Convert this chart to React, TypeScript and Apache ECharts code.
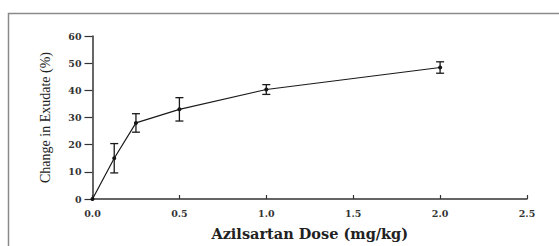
import React, { useEffect, useRef } from "react";
import * as echarts from "echarts";

const doses = [0, 0.125, 0.25, 0.5, 1.0, 2.0];
const means = [0, 15.0, 28.0, 33.0, 40.3, 48.4];
const errors = [0, 5.4, 3.4, 4.3, 1.8, 2.1];
const xTicks = [0, 0.5, 1.0, 1.5, 2.0, 2.5];
const yTicks = [0, 10, 20, 30, 40, 50, 60];
const xTitle = "Azilsartan Dose (mg/kg)";
const yTitle = "Change in Exudate (%)";

export default function App() {
  const ref = useRef<HTMLDivElement>(null);
  useEffect(() => {
    if (!ref.current) return;
    const chart = echarts.init(ref.current, undefined, { renderer: "svg" });
    const lineData = doses.map((d, i) => [d, means[i]]);
    const errData = doses
      .map((d, i) => [d, means[i] - errors[i], means[i] + errors[i]])
      .filter((_, i) => errors[i] > 0);
    const tickFont = {
      fontFamily: "DejaVu Serif",
      fontWeight: "bold" as const,
      fontSize: 9.5,
      color: "#333",
    };
    chart.setOption({
      animation: false,
      backgroundColor: "#fff",
      graphic: [
        {
          type: "polyline",
          shape: { points: [[8.5, 300], [8.5, 13.5], [600, 13.5]] },
          style: { fill: "none", stroke: "#8a8a8a", lineWidth: 1.5 },
          silent: true,
        },
      ],
      grid: { left: 92.5, top: 36, width: 434.5, height: 166.5 },
      xAxis: {
        type: "value",
        min: 0,
        max: 2.5,
        interval: 0.5,
        name: xTitle,
        nameLocation: "middle",
        nameGap: 27,
        nameTextStyle: {
          fontFamily: "DejaVu Serif",
          fontWeight: "bold",
          fontSize: 14.5,
          color: "#222",
        },
        axisLine: { onZero: false, lineStyle: { color: "#333", width: 1.5 } },
        axisTick: { inside: true, length: 4, lineStyle: { color: "#333", width: 1.2 } },
        axisLabel: {
          ...tickFont,
          margin: 9,
          formatter: (v: number) => (xTicks.includes(v) ? v.toFixed(1) : ""),
        },
        splitLine: { show: false },
      },
      yAxis: {
        type: "value",
        min: 0,
        max: 60,
        interval: 10,
        name: yTitle,
        nameLocation: "middle",
        nameGap: 40,
        nameTextStyle: {
          fontFamily: "Liberation Serif",
          fontSize: 14,
          color: "#222",
        },
        axisLine: { onZero: false, lineStyle: { color: "#333", width: 1.5 } },
        axisTick: { inside: false, length: 8, lineStyle: { color: "#333", width: 1.2 } },
        axisLabel: {
          ...tickFont,
          margin: 11,
          formatter: (v: number) => (yTicks.includes(v) ? String(v) : ""),
        },
        splitLine: { show: false },
      },
      series: [
        {
          type: "line",
          data: lineData,
          symbol: "circle",
          symbolSize: 4,
          lineStyle: { color: "#1a1a1a", width: 1.2 },
          itemStyle: { color: "#111" },
          z: 3,
        },
        {
          type: "custom",
          data: errData,
          z: 4,
          renderItem: (params: any, api: any) => {
            const x = api.value(0);
            const lo = api.coord([x, api.value(1)]);
            const hi = api.coord([x, api.value(2)]);
            const w = 4;
            const style = { stroke: "#1a1a1a", lineWidth: 1.3 };
            return {
              type: "group",
              children: [
                { type: "line", shape: { x1: lo[0], y1: lo[1], x2: hi[0], y2: hi[1] }, style },
                { type: "line", shape: { x1: lo[0] - w, y1: lo[1], x2: lo[0] + w, y2: lo[1] }, style },
                { type: "line", shape: { x1: hi[0] - w, y1: hi[1], x2: hi[0] + w, y2: hi[1] }, style },
              ],
            };
          },
        },
      ],
    });
    return () => chart.dispose();
  }, []);
  return (
    <div
      ref={ref}
      style={{ position: "absolute", left: 0, top: 0, width: 559, height: 246 }}
    />
  );
}
